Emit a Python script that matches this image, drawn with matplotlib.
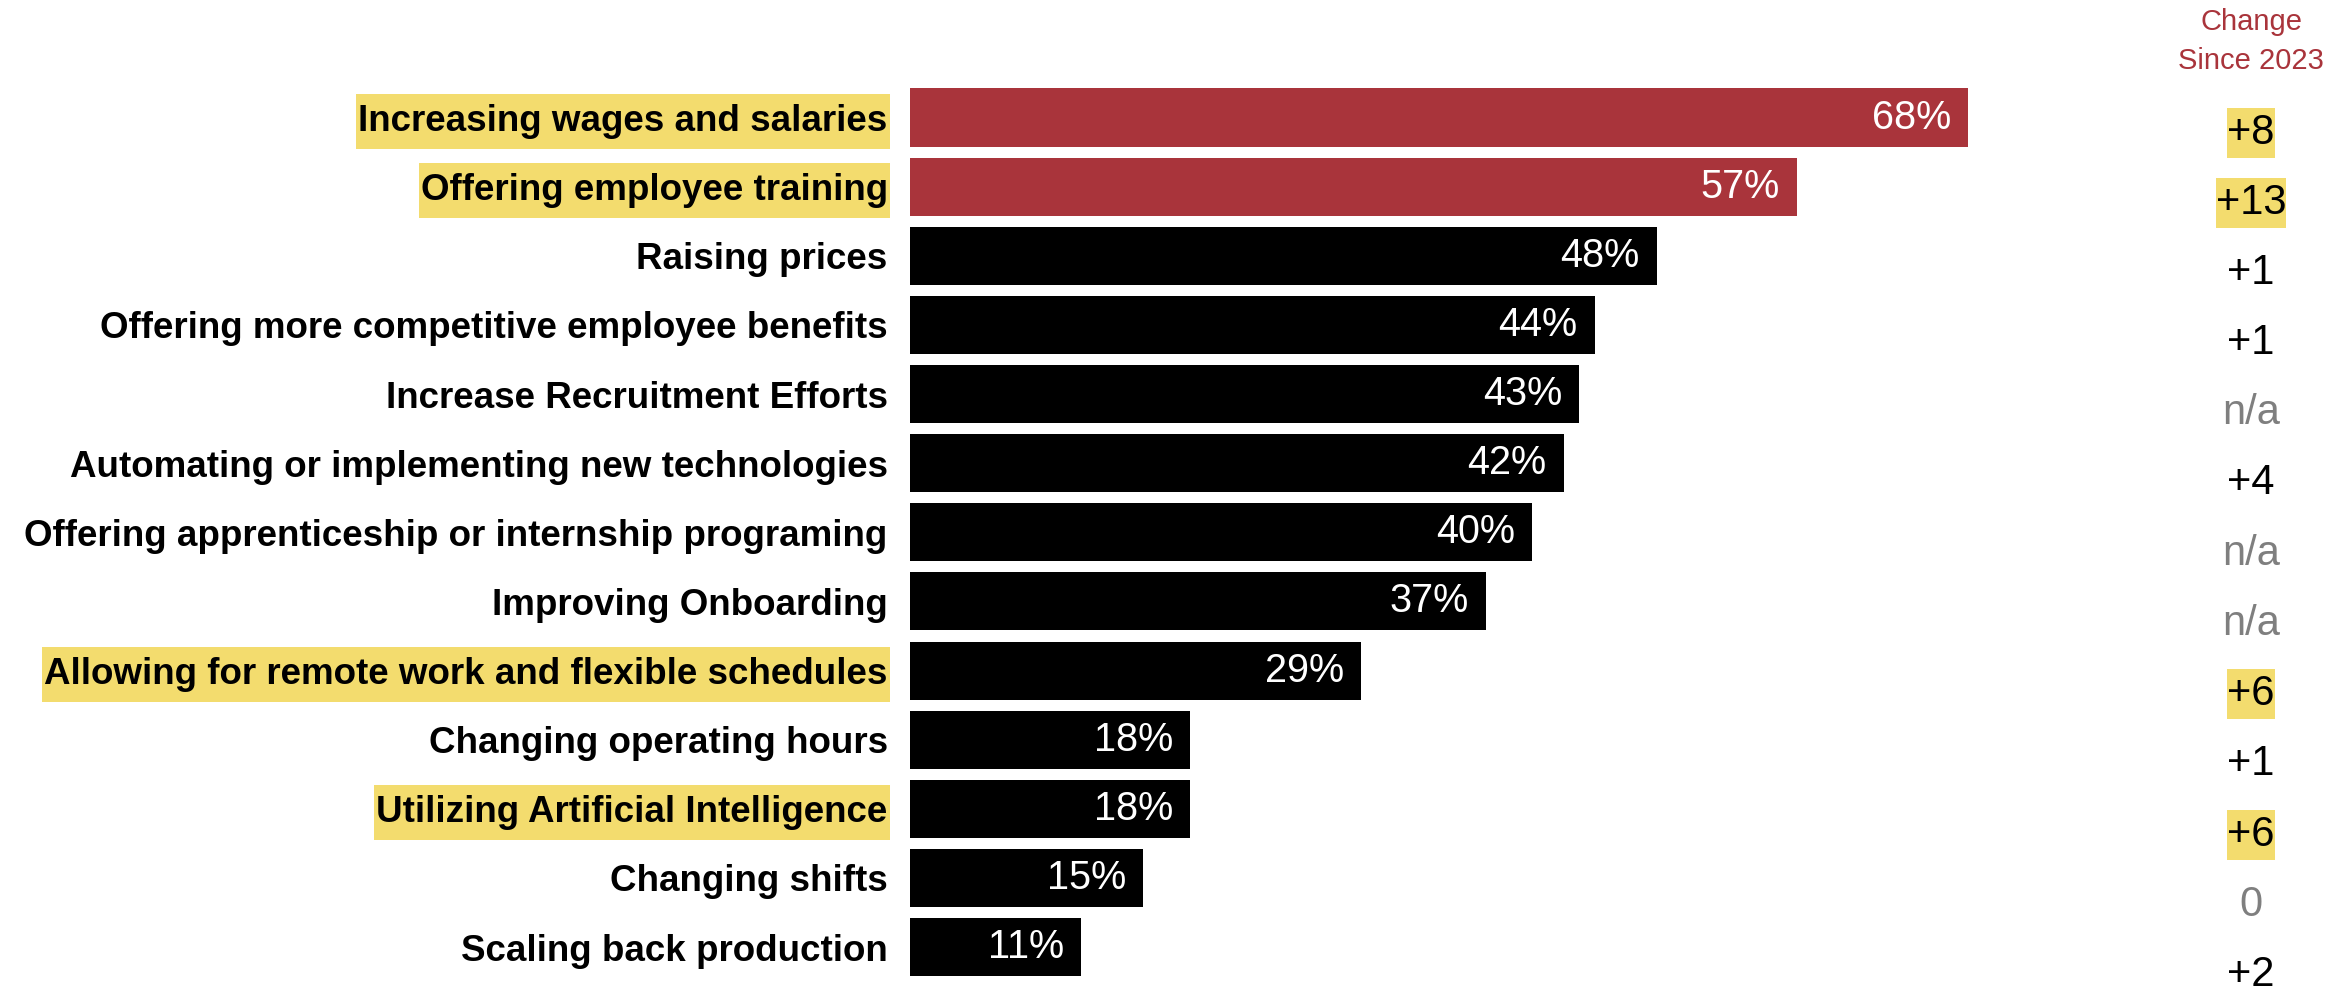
import matplotlib
matplotlib.use("Agg")
import matplotlib.pyplot as plt
from matplotlib import font_manager
from matplotlib.patches import Rectangle

# Strategies employers are using, share of respondents
strategies = [
    "Increasing wages and salaries",
    "Offering employee training",
    "Raising prices",
    "Offering more competitive employee benefits",
    "Increase Recruitment Efforts",
    "Automating or implementing new technologies",
    "Offering apprenticeship or internship programing",
    "Improving Onboarding",
    "Allowing for remote work and flexible schedules",
    "Changing operating hours",
    "Utilizing Artificial Intelligence",
    "Changing shifts",
    "Scaling back production",
]
shares = [68, 57, 48, 44, 43, 42, 40, 37, 29, 18, 18, 15, 11]
changes = ["+8", "+13", "+1", "+1", "n/a", "+4", "n/a", "n/a", "+6", "+1", "+6", "0", "+2"]
highlighted = [0, 1, 8, 10]
top_n_red = 2

RED = "#A9343B"
YELLOW = "#F3DC6E"
GRAY = "#7F7F7F"

names = {f.name for f in font_manager.fontManager.ttflist}
FONT = "Liberation Sans Narrow" if "Liberation Sans Narrow" in names else "Liberation Sans"

fig = plt.figure(figsize=(23.35, 9.91), dpi=100)
ax = fig.add_axes([0.3897, 0.0094, 0.5332, 0.9069])

rows = list(range(len(strategies)))
colors = [RED if i < top_n_red else "black" for i in rows]
ax.barh(rows, shares, height=0.84, color=colors)
ax.set_xlim(0, 80)
ax.set_ylim(len(strategies) - 0.5, -0.5)

# value labels inside the bar ends
for i, v in enumerate(shares):
    ax.text(v - 1.1, i, f"{v}%", ha="right", va="center", color="white",
            fontsize=28.5, family=FONT)

ax.set_yticks(rows)
ax.set_yticklabels(strategies, fontsize=26.5, fontweight="bold", family=FONT)
ax.tick_params(axis="y", length=0, pad=16)
ax.set_xticks([])
for s in ax.spines.values():
    s.set_visible(False)

# change since 2023 column
col_x = 2251 / 2335
fig.text(col_x, 1 - 22 / 991, "Change", ha="center", va="center",
         color=RED, fontsize=21, family=FONT)
fig.text(col_x, 1 - 61 / 991, "Since 2023", ha="center", va="center",
         color=RED, fontsize=21, family=FONT)
change_texts = []
for i, c in enumerate(changes):
    y = 1 - (132.5 + i * 70.2) / 991
    col = GRAY if c in ("n/a", "0") else "black"
    t = fig.text(col_x, y, c, ha="center", va="center", color=col,
                 fontsize=30, family=FONT, zorder=3)
    change_texts.append(t)


def highlight(text, padx, pady):
    # yellow box behind a text, in figure pixels
    bb = text.get_window_extent(renderer)
    W, H = fig.bbox.width, fig.bbox.height
    rect = Rectangle(((bb.x0 - padx) / W, (bb.y0 - pady) / H),
                     (bb.width + 2 * padx) / W, (bb.height + 2 * pady) / H,
                     transform=fig.transFigure, facecolor=YELLOW,
                     edgecolor="none", zorder=0)
    fig.add_artist(rect)


fig.canvas.draw()
renderer = fig.canvas.get_renderer()
labels = ax.get_yticklabels()
for i in highlighted:
    highlight(labels[i], 2, 10)
    highlight(change_texts[i], 0, 5)

fig.savefig("out.png", dpi=100)
